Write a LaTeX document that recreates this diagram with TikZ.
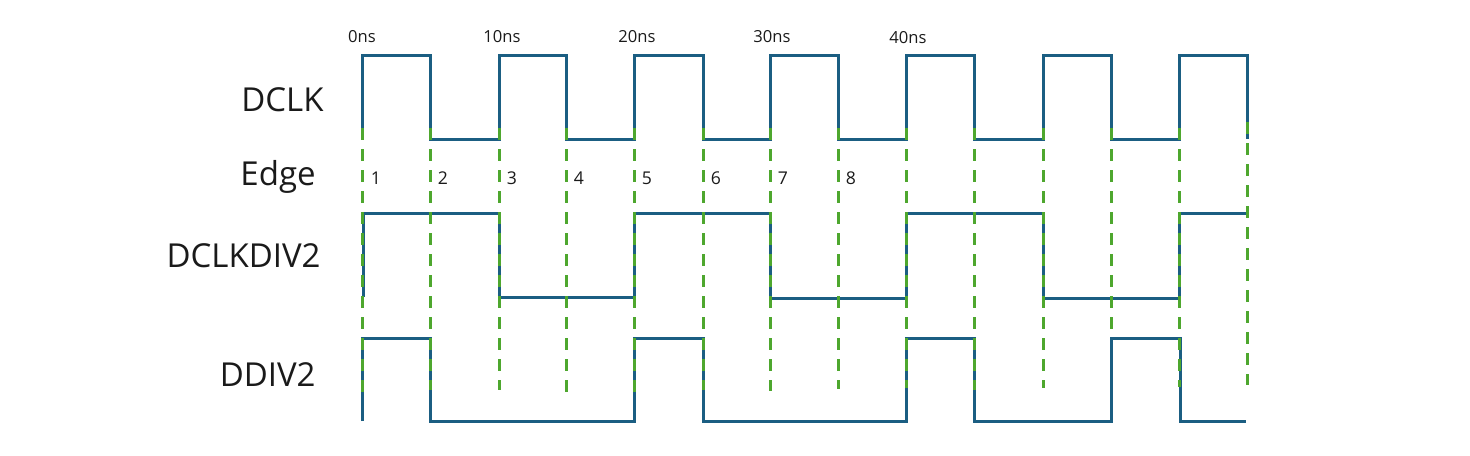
\documentclass[tikz,border=0pt]{standalone}
\usepackage{fontspec}
\setmainfont{Open Sans}

\definecolor{waveblue}{HTML}{1B5E82}
\definecolor{edgegreen}{HTML}{4EA72E}
\definecolor{textgray}{HTML}{1A1A1A}

\tikzset{
    wave/.style={draw=waveblue, line width=1.5pt, line join=miter},
    edgeline/.style={draw=edgegreen, line width=1.5pt, dash pattern=on 6pt off 4.5pt},
    siglabel/.style={anchor=base east, inner sep=0pt, text=textgray,
        font=\fontsize{16.5}{18}\selectfont},
    timelabel/.style={anchor=base, inner sep=0pt, text=textgray,
        font=\fontsize{8.3}{10}\selectfont},
    numlabel/.style={anchor=base, inner sep=0pt, text=textgray,
        font=\fontsize{8.8}{10}\selectfont}
}

\begin{document}
\begin{tikzpicture}[x=0.5pt, y=-0.5pt]
        \useasboundingbox (0,0) rectangle (1470,455);

        % signal names
        \node [siglabel] (dclk) at (324,111) {DCLK};
        \node [siglabel] (edge) at (316,185) {Edge};
        \node [siglabel] (div) at (321,267) {DCLKDIV2};
        \node [siglabel] (ddiv) at (316,386) {DDIV2};

        % DCLK
        \draw [wave] (362,139) -- (362,55) -- (430,55) -- (430,139)
            -- (499,139) -- (499,55) -- (566,55) -- (566,139)
            -- (634,139) -- (634,55) -- (703,55) -- (703,139)
            -- (770,139) -- (770,55) -- (838,55) -- (838,139)
            -- (906,139) -- (906,55) -- (974,55) -- (974,139)
            -- (1043,139) -- (1043,55) -- (1111,55) -- (1111,139)
            -- (1179,139) -- (1179,55) -- (1247,55) -- (1247,139);

        % DCLKDIV2
        \draw [wave] (363,297) -- (363,213) -- (499,213) -- (499,297)
            -- (634,297) -- (634,213) -- (770,213) -- (770,298)
            -- (906,298) -- (906,213) -- (1043,213) -- (1043,298)
            -- (1179,298) -- (1179,213) -- (1248,213);

        % DDIV2
        \draw [wave] (362,421) -- (362,338) -- (430,338) -- (430,421)
            -- (634,421) -- (634,338) -- (703,338) -- (703,421)
            -- (906,421) -- (906,338) -- (974,338) -- (974,421)
            -- (1111,421) -- (1111,338) -- (1180,338) -- (1180,421)
            -- (1246,421);

        % edges
        \draw [edgeline] (362,128) -- (362,392);
        \draw [edgeline] (430,128) -- (430,390);
        \draw [edgeline] (499,128) -- (499,390);
        \draw [edgeline] (566,128) -- (566,393);
        \draw [edgeline] (634,128) -- (634,392);
        \draw [edgeline] (703,128) -- (703,390);
        \draw [edgeline] (770,128) -- (770,391);
        \draw [edgeline] (838,128) -- (838,389);
        \draw [edgeline] (906,128) -- (906,388);
        \draw [edgeline] (974,128) -- (974,390);
        \draw [edgeline] (1043,128) -- (1043,388);
        \draw [edgeline] (1111,128) -- (1111,337);
        \draw [edgeline] (1179,128) -- (1179,387);
        \draw [edgeline] (1247,122) -- (1247,385);

        % times
        \node [timelabel] (t0) at (362,42) {0ns};
        \node [timelabel] (t10) at (502,42) {10ns};
        \node [timelabel] (t20) at (637,42) {20ns};
        \node [timelabel] (t30) at (772,42) {30ns};
        \node [timelabel] (t40) at (908,43) {40ns};

        % edge numbers
        \node [numlabel] (n1) at (376,184) {1};
        \node [numlabel] (n2) at (443,184) {2};
        \node [numlabel] (n3) at (512,184) {3};
        \node [numlabel] (n4) at (579,184) {4};
        \node [numlabel] (n5) at (647,184) {5};
        \node [numlabel] (n6) at (716,184) {6};
        \node [numlabel] (n7) at (783,184) {7};
        \node [numlabel] (n8) at (851,184) {8};
    \end{tikzpicture}
\end{document}
